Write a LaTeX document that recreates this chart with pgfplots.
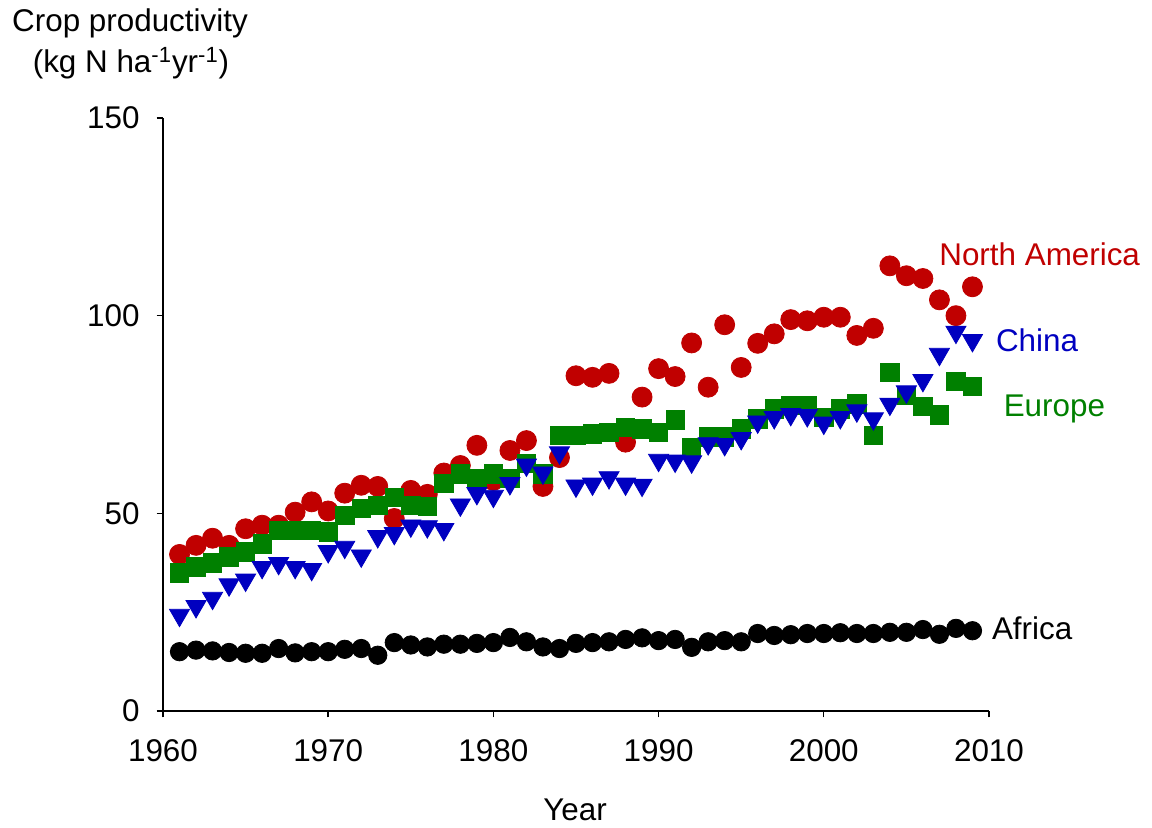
\documentclass[border=0pt]{standalone}
\usepackage{pgfplots}
\pgfplotsset{compat=1.18}
\usepackage{fontspec}
\setmainfont{Liberation Sans}
\definecolor{nared}{RGB}{192,0,0}
\definecolor{eugreen}{RGB}{0,128,0}
\definecolor{cnblue}{RGB}{0,0,192}
\newcommand{\ff}{\fontsize{15.7}{18}\selectfont}
\begin{document}
\begin{tikzpicture}
\useasboundingbox (-81.5pt,-58.5pt) rectangle (494.5pt,355.5pt);
\begin{axis}[
  at={(0,0)}, anchor=south west,
  scale only axis, width=413pt, height=296.5pt,
  xmin=1960, xmax=2010, ymin=0, ymax=150,
  axis x line*=bottom, axis y line*=left,
  xtick={1960,1970,...,2010}, ytick={0,50,100,150},
  tick align=outside, major tick length=3.2pt,
  tick style={black, line width=0.7pt},
  axis line style={black, line width=0.7pt},
  x tick label style={/pgf/number format/1000 sep={}, yshift=-7.5pt},
  y tick label style={xshift=-5pt},
  /pgf/number format/assume math mode=true,
  tick label style={font=\ff},
  clip=false,
]
% Africa
\addplot[only marks, mark=*, mark size=4.6pt, mark options={draw=black, fill=black}] coordinates {
(1961,15.0)(1962,15.4)(1963,15.2)(1964,14.8)(1965,14.6)(1966,14.6)(1967,15.8)(1968,14.7)(1969,15.0)(1970,15.0)
(1971,15.6)(1972,15.8)(1973,14.1)(1974,17.3)(1975,16.7)(1976,16.2)(1977,16.9)(1978,16.9)(1979,17.1)(1980,17.3)
(1981,18.6)(1982,17.5)(1983,16.2)(1984,15.8)(1985,17.1)(1986,17.3)(1987,17.5)(1988,18.1)(1989,18.5)(1990,17.8)
(1991,18.1)(1992,16.1)(1993,17.5)(1994,17.8)(1995,17.5)(1996,19.6)(1997,19.1)(1998,19.3)(1999,19.6)(2000,19.6)
(2001,19.8)(2002,19.6)(2003,19.6)(2004,19.9)(2005,19.9)(2006,20.6)(2007,19.4)(2008,20.9)(2009,20.3)};
% North America
\addplot[only marks, mark=*, mark size=5pt, mark options={draw=nared, fill=nared}] coordinates {
(1961,39.6)(1962,41.9)(1963,43.7)(1964,41.9)(1965,46.1)(1966,47.0)(1967,47.0)(1968,50.3)(1969,52.9)(1970,50.6)
(1971,55.1)(1972,57.1)(1973,56.8)(1974,48.7)(1975,55.8)(1976,54.8)(1977,60.2)(1978,62.1)(1979,67.2)(1980,58.3)
(1981,65.9)(1982,68.4)(1983,56.8)(1984,64.1)(1985,84.8)(1986,84.4)(1987,85.4)(1988,68.0)(1989,79.4)(1990,86.6)
(1991,84.6)(1992,93.1)(1993,81.9)(1994,97.7)(1995,86.9)(1996,93.0)(1997,95.4)(1998,99.0)(1999,98.7)(2000,99.6)
(2001,99.6)(2002,95.0)(2003,96.8)(2004,112.6)(2005,110.1)(2006,109.4)(2007,104.0)(2008,100.0)(2009,107.3)};
% Europe
\addplot[only marks, mark=square*, mark size=4.6pt, mark options={draw=eugreen, fill=eugreen}] coordinates {
(1961,34.9)(1962,36.4)(1963,37.5)(1964,39.0)(1965,40.2)(1966,42.3)(1967,45.7)(1968,45.7)(1969,45.7)(1970,45.3)
(1971,49.5)(1972,51.2)(1973,52.0)(1974,54.1)(1975,52.0)(1976,51.8)(1977,57.5)(1978,60.0)(1979,58.8)(1980,60.0)
(1981,58.8)(1982,62.7)(1983,60.0)(1984,69.7)(1985,69.7)(1986,70.1)(1987,70.5)(1988,71.8)(1989,71.4)(1990,70.5)
(1991,73.6)(1992,66.7)(1993,69.3)(1994,69.3)(1995,71.4)(1996,73.9)(1997,76.4)(1998,77.3)(1999,77.3)(2000,74.3)
(2001,76.4)(2002,77.7)(2003,69.7)(2004,85.7)(2005,79.8)(2006,77.0)(2007,74.9)(2008,83.3)(2009,82.1)};
% China
\addplot[only marks, mark=triangle*, mark size=5.8pt, mark options={draw=cnblue, fill=cnblue, yshift=-1.45pt, rotate=180}] coordinates {
(1961,25.0)(1962,27.2)(1963,29.3)(1964,32.7)(1965,33.9)(1966,37.1)(1967,38.1)(1968,37.1)(1969,36.6)(1970,41.1)
(1971,42.2)(1972,40.0)(1973,44.9)(1974,45.7)(1975,47.6)(1976,47.4)(1977,46.7)(1978,52.9)(1979,55.8)(1980,55.1)
(1981,58.3)(1982,63.0)(1983,61.0)(1984,66.1)(1985,57.7)(1986,58.2)(1987,59.8)(1988,58.2)(1989,57.9)(1990,64.2)
(1991,64.0)(1992,63.8)(1993,68.4)(1994,68.2)(1995,69.7)(1996,73.9)(1997,75.0)(1998,75.8)(1999,75.5)(2000,73.6)
(2001,75.0)(2002,76.7)(2003,74.7)(2004,78.4)(2005,81.5)(2006,84.4)(2007,91.0)(2008,96.6)(2009,94.5)};
\node[anchor=base west, inner sep=0pt, text=nared, font=\ff] at (axis cs:2006.97,112.6) {North America};
\node[anchor=base west, inner sep=0pt, text=cnblue, font=\ff] at (axis cs:2010.40,90.9) {China};
\node[anchor=base west, inner sep=0pt, text=eugreen, font=\ff] at (axis cs:2010.87,74.4) {Europe};
\node[anchor=base west, inner sep=0pt, text=black, font=\ff] at (axis cs:2010.16,18.2) {Africa};
\end{axis}
\node[font=\ff] at (-16.5pt,344pt) {Crop productivity};
\node[font=\ff] at (-16pt,324pt) {(kg N ha\textsuperscript{-1}yr\textsuperscript{-1})};
\node[font=\ff] at (206pt,-49.5pt) {Year};
\end{tikzpicture}
\end{document}
